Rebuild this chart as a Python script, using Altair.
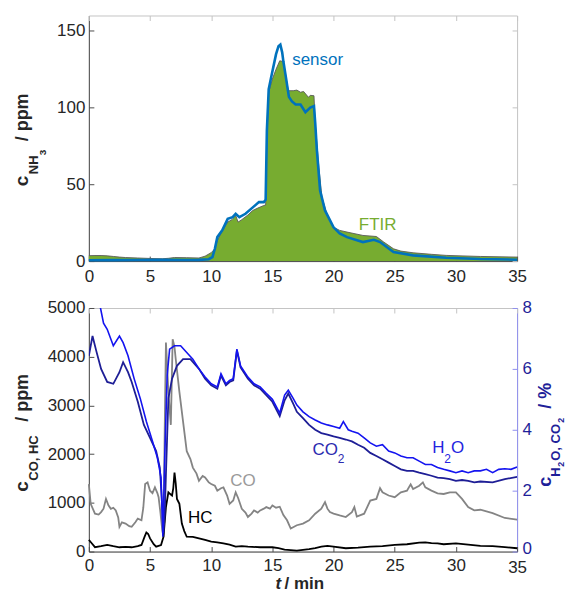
import altair as alt
import pandas as pd

FONT = "Liberation Sans"
DARK = "#4d4d4d"
LIGHT = "#c4c4c4"
RBLUE = "#1f1f99"
RLINE = "#9090ee"

# ---------------- top panel data (NH3, ppm) ----------------
ftir_t = [0, 0.5, 1, 1.5, 2, 2.5, 3, 4, 5, 6, 6.5, 7, 8, 9, 9.5, 10, 10.3, 10.5, 10.8, 11,
          11.35, 11.7, 12, 12.2, 12.5, 13, 13.4, 13.8, 14.3, 14.45, 14.55, 14.7, 15, 15.3, 15.6,
          15.9, 16.3, 16.7, 17, 17.3, 17.55, 17.95, 18.1, 18.4, 18.5, 18.8, 19.05, 19.45, 20,
          20.5, 21.1, 22.4, 23.5, 24.1, 24.9, 25.5, 26.5, 28, 29.2, 32, 35]
ftir_v = [3.5, 3.6, 3.6, 3.4, 3.0, 2.6, 2.3, 2.0, 1.7, 1.5, 1.8, 2.3, 2.2, 2.0, 3.2, 5.5, 8, 13.4,
          18, 21, 25.4, 27, 29.7, 25.4, 27, 30, 33, 34.5, 36.2, 36.5, 80, 110, 118.6, 125, 130.5,
          130, 111, 111, 111.4, 110, 110.5, 106.7, 108, 107.7, 90, 61, 41.6, 30.8, 22, 20, 18.9,
          16.7, 16, 12.4, 8, 6.5, 5.4, 4.4, 3.7, 3, 2.6]

sensor_t = [0, 2, 4, 6, 8, 9, 9.8, 10.1, 10.3, 10.5, 10.9, 11.35, 11.75, 12, 12.3, 12.8, 13.4,
            13.9, 14.3, 14.45, 14.55, 14.7, 14.9, 15.3, 15.5, 15.65, 15.8, 15.9, 16.1, 16.35,
            16.6, 16.9, 17.3, 17.7, 18.1, 18.4, 18.5, 18.64, 18.9, 19.3, 20, 20.5, 21.1, 22.4,
            23.3, 23.8, 24.9, 26.5, 29.2, 32, 35]
sensor_v = [0.5, 0.6, 0.7, 0.8, 0.7, 0.8, 1.2, 2.6, 8, 15.6, 20, 27.5, 28.6, 30.8, 28.6, 30.8,
            35, 38.4, 38.4, 40, 85, 112, 119.7, 134.8, 140, 141, 136, 130, 120, 107, 104, 102,
            102, 97, 100, 101, 90, 72, 46, 33, 22, 18, 15.6, 12.4, 13.9, 12.4, 5.9, 3.7, 2.2,
            1.3, 0.9]

# ---------------- bottom panel data ----------------
hc_t = [0, 0.2, 0.5, 1, 1.5, 2, 2.5, 3, 3.5, 4, 4.3, 4.55, 4.7, 4.85, 5.0, 5.3, 5.5, 5.9, 6.1,
        6.3, 6.5, 6.65, 6.8, 6.9, 7.0, 7.1, 7.2, 7.4, 7.6, 7.8, 8, 8.5, 9, 9.5, 10, 10.5, 11,
        11.5, 12, 12.5, 13, 14, 15, 15.5, 16, 16.5, 17, 17.5, 18, 18.5, 19, 19.5, 20, 21, 22,
        23, 24, 25, 26, 27, 27.5, 28, 28.5, 29, 30, 31, 32, 33, 34, 35]
hc_v = [240, 180, 90, 110, 135, 110, 88, 95, 88, 110, 135, 300, 392, 360, 270, 150, 100, 135,
        304, 912, 1216, 1180, 1150, 1300, 1622, 1400, 1081, 980, 574, 420, 304, 300, 270, 240,
        203, 190, 169, 140, 100, 110, 100, 88, 88, 70, 40, 30, 20, 35, 50, 68, 100, 115, 100,
        68, 80, 100, 110, 135, 150, 182, 190, 175, 169, 150, 169, 140, 115, 110, 90, 68]

co_t = [0, 0.15, 0.5, 0.8, 1, 1.2, 1.4, 1.6, 1.8, 2.0, 2.2, 2.4, 2.5, 2.7, 3, 3.3, 3.5, 3.8, 4,
        4.3, 4.45, 4.6, 4.8, 5.0, 5.2, 5.4, 5.6, 5.7, 5.85, 6.0, 6.1, 6.2, 6.3, 6.4, 6.5, 6.7,
        6.85, 7.0, 7.1, 7.4, 7.7, 8, 8.3, 8.5, 8.8, 9, 9.3, 9.5, 9.8, 10, 10.3, 10.5, 10.8, 11,
        11.3, 11.5, 11.8, 12, 12.2, 12.5, 12.8, 13, 13.3, 13.5, 13.8, 14, 14.3, 14.5, 14.8, 15,
        15.3, 15.6, 15.9, 16.2, 16.5, 17, 17.5, 18, 18.5, 19, 19.3, 19.5, 19.7, 20, 20.5, 21,
        21.5, 21.7, 21.9, 22.5, 23, 23.5, 23.8, 24, 24.5, 25, 25.5, 26, 26.3, 26.5, 27, 27.3,
        27.5, 28, 28.5, 29, 29.5, 30, 30.5, 31, 31.5, 32, 33, 34, 35]
co_v = [1385, 980, 777, 760, 810, 880, 1081, 950, 878, 900, 845, 700, 507, 600, 574, 520, 507,
        600, 676, 642, 900, 1385, 1420, 1250, 1200, 1318, 1200, 1115, 800, 439, 304, 2500,
        4290, 3800, 3277, 2600, 4358, 4200, 3953, 3277, 2669, 2061, 1900, 1723, 1600, 1453,
        1550, 1520, 1420, 1385, 1350, 1250, 1300, 1318, 1150, 980, 1050, 1216, 1100, 878, 800,
        709, 780, 845, 800, 845, 880, 912, 880, 946, 900, 920, 750, 642, 473, 540, 574, 642,
        777, 878, 1014, 880, 810, 780, 743, 709, 810, 912, 720, 777, 1047, 1081, 1300, 1216,
        1150, 1115, 1216, 1250, 1380, 1284, 1351, 1420, 1318, 1250, 1196, 1182, 1216, 1216,
        1081, 912, 845, 858, 790, 689, 655]

co2_t = [0, 0.3, 0.6, 1, 1.5, 2, 2.5, 2.8, 3.2, 3.5, 4, 4.5, 5, 5.5, 5.8, 5.95, 6.1, 6.2, 6.3,
         6.5, 6.8, 7.2, 7.7, 8.3, 9, 9.5, 10, 10.5, 10.8, 11.2, 11.5, 11.8, 12.1, 12.4, 13,
         13.5, 14, 14.5, 15, 15.6, 16, 16.3, 16.7, 17, 17.5, 18, 18.5, 19, 19.5, 20, 20.5, 21,
         21.5, 22, 22.5, 23, 23.5, 24, 24.5, 25, 25.5, 26, 26.5, 27, 27.5, 28, 28.5, 29, 29.5,
         30, 30.5, 31, 31.5, 32, 33, 34, 35]
co2_v = [6.43, 7.08, 6.6, 6.0, 5.57, 5.51, 5.89, 6.22, 5.89, 5.57, 4.92, 4.16, 3.73, 3.3, 2.76,
         1.8, 0.6, 1.2, 2.54, 5.03, 5.68, 6.1, 6.32, 6.32, 6.0, 5.68, 5.46, 5.35, 5.78, 5.46,
         5.57, 5.62, 6.6, 6.05, 5.68, 5.46, 5.35, 5.14, 4.92, 4.45, 4.97, 5.19, 4.86, 4.59,
         4.38, 4.16, 4.0, 3.89, 3.84, 3.78, 3.73, 3.68, 3.62, 3.51, 3.41, 3.24, 3.14, 3.03,
         2.92, 2.81, 2.70, 2.65, 2.65, 2.59, 2.54, 2.49, 2.43, 2.41, 2.38, 2.32, 2.35, 2.32,
         2.27, 2.30, 2.27, 2.38, 2.45]

h2o_t = [0, 0.5, 0.95, 1.2, 1.5, 2, 2.5, 2.8, 3.2, 3.7, 4.2, 4.7, 5.2, 5.6, 5.9, 6.05, 6.2, 6.4,
         6.6, 7, 7.5, 8, 8.5, 9, 9.5, 10, 10.5, 10.8, 11.2, 11.5, 11.8, 12.1, 12.4, 13, 13.5,
         14, 14.5, 15, 15.6, 16, 16.3, 16.7, 17, 17.5, 18, 18.5, 19, 19.5, 20, 20.5, 20.8,
         21.2, 21.5, 22, 22.5, 23, 23.5, 24, 24.5, 25, 25.5, 26, 26.5, 27, 27.5, 28, 28.5, 29,
         29.5, 30, 30.5, 31, 31.5, 32, 32.5, 33, 33.5, 34, 34.5, 35]
h2o_v = [9.2, 8.6, 8.0, 7.5, 7.3, 6.76, 7.08, 6.86, 6.43, 5.68, 5.03, 4.27, 3.62, 3.08, 2.43,
         0.49, 3.08, 5.78, 6.65, 6.76, 6.76, 6.54, 6.32, 6.0, 5.73, 5.51, 5.41, 5.84, 5.51,
         5.62, 5.68, 6.65, 6.1, 5.73, 5.51, 5.41, 5.2, 5.0, 4.55, 5.14, 5.3, 5.03, 4.81, 4.59,
         4.43, 4.32, 4.22, 4.16, 4.11, 4.05, 4.27, 4.0, 3.95, 3.89, 3.73, 3.57, 3.46, 3.51,
         3.3, 3.24, 3.14, 3.08, 3.08, 2.97, 2.86, 2.86, 2.76, 2.70, 2.65, 2.59, 2.65, 2.59,
         2.65, 2.65, 2.7, 2.59, 2.7, 2.72, 2.7, 2.78]

x_ticks = [0, 5, 10, 15, 20, 25, 30, 35]
nh3_ticks = [0, 50, 100, 150]
ppm_ticks = [0, 1000, 2000, 3000, 4000, 5000]
pct_ticks = [0, 2, 4, 6, 8]

W, H_TOP, H_BOT = 429, 246, 244
dummy = pd.DataFrame({"d": [0]})

def grid_cond(pairs):
    return {"condition": [{"test": f"datum.value == {v}", "value": c} for v, c in pairs],
            "value": "transparent"}

def axis_main(orient, values, pairs, pad):
    return alt.Axis(orient=orient, values=values, offset=-5, domain=False, tickSize=5,
                    tickColor=DARK, tickWidth=1, labelFont=FONT, labelFontSize=17,
                    labelColor="#262626", labelPadding=pad, labelFlush=False, format="d",
                    grid=True, gridColor=grid_cond(pairs), gridWidth=1, title=None)

def axis_ghost(orient, values):
    return alt.Axis(orient=orient, values=values, offset=-5, domain=False, tickSize=5,
                    tickColor=LIGHT, labels=False, grid=False, title=None)

xs = alt.Scale(domain=[0, 35], nice=False, zero=False)

def txt(text, x, y, size, color, weight="bold", style="normal", angle=270):
    return alt.Chart(dummy).mark_text(
        text=text, angle=angle, align="left", baseline="alphabetic", font=FONT,
        fontSize=size, fontWeight=weight, fontStyle=style, color=color
    ).encode(x=alt.value(x), y=alt.value(y))

def label(text, t, v, size, color, xenc, yenc, align="center"):
    df = pd.DataFrame({"t": [t], "v": [v]})
    return alt.Chart(df).mark_text(text=text, align=align, baseline="middle", font=FONT,
                                   fontSize=size, color=color).encode(x=xenc, y=yenc)

# ---------------- top panel ----------------
ys_top = alt.Scale(domain=[0, 160], nice=False)
xa_top = axis_main("bottom", x_ticks, [(0, DARK)], 7)
ya_top = axis_main("left", nh3_ticks, [(0, DARK)], 4)
X_top = alt.X("t:Q", scale=xs, axis=xa_top)
Y_top = alt.Y("v:Q", scale=ys_top, axis=ya_top)

ftir_df = pd.DataFrame({"t": ftir_t, "v": ftir_v})
sensor_df = pd.DataFrame({"t": sensor_t, "v": sensor_v})

ftir_area = alt.Chart(ftir_df).mark_area(color="#77AC30", opacity=1).encode(x=X_top, y=Y_top)
ftir_line = alt.Chart(ftir_df).mark_line(color="#5a5a5a", strokeWidth=0.9).encode(x=X_top, y=Y_top)
sensor_line = alt.Chart(sensor_df).mark_line(color="#0072BD", strokeWidth=2.6).encode(x=X_top, y=Y_top)

top_main = alt.layer(
    ftir_area, ftir_line, sensor_line,
    label("sensor", 18.7, 131, 17, "#0072BD", X_top, Y_top),
    label("FTIR", 23.6, 23.4, 17, "#77AC30", X_top, Y_top),
    txt("c", -61, 171, 19, "#262626"),
    txt("NH", -51, 159, 13, "#262626"),
    txt("3", -43, 140, 10, "#262626"),
    txt("/ ppm", -61, 126, 18, "#262626"),
)
top_ghost = alt.Chart(sensor_df).mark_line(opacity=0).encode(
    x=alt.X("t:Q", scale=xs, axis=axis_ghost("top", x_ticks)),
    y=alt.Y("v:Q", scale=ys_top, axis=axis_ghost("right", nh3_ticks)),
)
top = alt.layer(top_main, top_ghost).resolve_axis(x="independent", y="independent").properties(
    width=W, height=H_TOP)

# ---------------- bottom panel ----------------
ys_ppm = alt.Scale(domain=[0, 5000], nice=False)
ys_pct = alt.Scale(domain=[0, 8], nice=False)
xa_bot = alt.Axis(orient="bottom", values=x_ticks, offset=-5, domain=False, tickSize=5,
                  tickColor=DARK, tickWidth=1, labelFont=FONT, labelFontSize=17,
                  labelColor="#262626", labelFlush=False, format="d",
                  labelPadding={"condition": {"test": "datum.value == 35", "value": 8}, "value": 6},
                  grid=True, gridColor=grid_cond([(0, DARK), (35, RLINE)]), gridWidth=1,
                  title=None)
ya_ppm = axis_main("left", ppm_ticks, [(0, DARK)], 4)
ya_pct = alt.Axis(orient="right", values=pct_ticks, offset=-5, domain=False, tickSize=5,
                  tickColor=RLINE, labelFont=FONT, labelFontSize=17, labelColor=RBLUE,
                  labelPadding=5,
                  labelOffset={"condition": {"test": "datum.value == 0", "value": -3}, "value": 0},
                  grid=False, title=None)
X_bl = alt.X("t:Q", scale=xs, axis=xa_bot)
Y_ppm = alt.Y("v:Q", scale=ys_ppm, axis=ya_ppm)
X_br = alt.X("t:Q", scale=xs, axis=axis_ghost("top", x_ticks))
Y_pct = alt.Y("v:Q", scale=ys_pct, axis=ya_pct)

co_df = pd.DataFrame({"t": co_t, "v": co_v})
hc_df = pd.DataFrame({"t": hc_t, "v": hc_v})
co2_df = pd.DataFrame({"t": co2_t, "v": co2_v})
h2o_df = pd.DataFrame({"t": h2o_t, "v": h2o_v})

left = alt.layer(
    alt.Chart(co_df).mark_line(color="#848484", strokeWidth=1.8).encode(x=X_bl, y=Y_ppm),
    alt.Chart(hc_df).mark_line(color="#000000", strokeWidth=1.8).encode(x=X_bl, y=Y_ppm),
    label("CO", 12.6, 1457, 17, "#9a9a9a", X_bl, Y_ppm),
    label("HC", 9.1, 688, 17, "#000000", X_bl, Y_ppm),
    txt("c", -61, 184, 19, "#262626"),
    txt("CO, HC", -51, 173, 13, "#262626"),
    txt("/ ppm", -61, 114, 18, "#262626"),
    txt("t", 187, 282, 17, "#262626", style="italic", angle=0),
    txt("/ min", 196, 282, 17, "#262626", angle=0),
)
right = alt.layer(
    alt.Chart(co2_df).mark_line(color="#1e1e96", strokeWidth=1.8, clip=True).encode(x=X_br, y=Y_pct),
    alt.Chart(h2o_df).mark_line(color="#1414f0", strokeWidth=1.6, clip=True).encode(x=X_br, y=Y_pct),
    label("CO", 18.27, 3.35, 17, "#2b2bb0", X_br, Y_pct, align="left"),
    label("2", 20.35, 3.04, 12, "#2b2bb0", X_br, Y_pct, align="left"),
    label("H", 28.06, 3.41, 17, "#2424e0", X_br, Y_pct, align="left"),
    label("2", 29.04, 3.04, 12, "#2424e0", X_br, Y_pct, align="left"),
    label("O", 29.6, 3.41, 17, "#2424e0", X_br, Y_pct, align="left"),
    txt("c", 463, 179, 18, RBLUE),
    txt("H", 472, 169, 13, RBLUE),
    txt("2", 476, 159, 9, RBLUE),
    txt("O, CO", 472, 153, 13, RBLUE),
    txt("2", 476, 115, 9, RBLUE),
    txt("/ %", 463, 101, 18, RBLUE),
)
bottom = alt.layer(left, right).resolve_scale(y="independent").resolve_axis(
    x="independent", y="independent").properties(width=W, height=H_BOT)

chart = alt.vconcat(top, bottom, spacing=47, bounds="flush").properties(
    padding={"left": 4, "top": 6, "right": 0, "bottom": 0},
    background="white",
).configure_view(stroke=LIGHT, strokeWidth=1)

chart.save("out.html", embed_options={"renderer": "svg", "actions": False})
